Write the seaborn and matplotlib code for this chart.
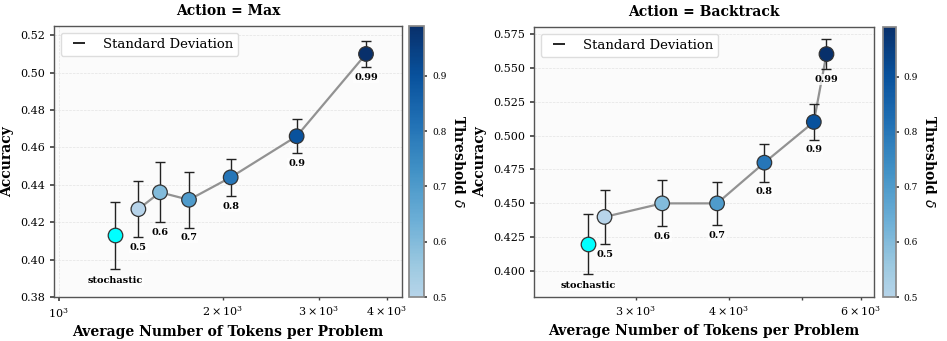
import numpy as np
import pandas as pd
import seaborn as sns
import matplotlib.pyplot as plt
from matplotlib.colors import ListedColormap, Normalize
from matplotlib.lines import Line2D

# data
thresholds = [0.5, 0.6, 0.7, 0.8, 0.9, 0.99]
threshold_labels = ['0.5', '0.6', '0.7', '0.8', '0.9', '0.99']

max_tokens = [1400, 1534, 1734, 2068, 2733, 3664]
max_acc = [0.427, 0.436, 0.432, 0.444, 0.466, 0.510]
max_std = [0.015, 0.016, 0.015, 0.010, 0.009, 0.007]
max_stoch_tokens = 1269
max_stoch_acc = 0.413
max_stoch_std = 0.018

bt_tokens = [2727, 3256, 3855, 4459, 5191, 5397]
bt_acc = [0.440, 0.450, 0.450, 0.480, 0.510, 0.560]
bt_std = [0.020, 0.017, 0.016, 0.014, 0.013, 0.011]
bt_stoch_tokens = 2593
bt_stoch_acc = 0.420
bt_stoch_std = 0.022

sns.set_theme(style='white')
plt.rcParams['font.family'] = ['DejaVu Serif']
plt.rcParams['text.color'] = 'black'
plt.rcParams['axes.labelcolor'] = 'black'
plt.rcParams['xtick.color'] = 'black'
plt.rcParams['ytick.color'] = 'black'

cmap = ListedColormap(plt.cm.Blues(np.linspace(0.3, 1.0, 256)))
norm = Normalize(vmin=0.5, vmax=0.99)

fig = plt.figure(figsize=(9.47, 3.41), dpi=100)

panels = [
    ('Max', max_tokens, max_acc, max_std, max_stoch_tokens, max_stoch_acc, max_stoch_std,
     [0.057, 0.129, 0.3675, 0.795], [0.432, 0.129, 0.016, 0.795], (0.38, 0.525), (980, 4266),
     [0.38, 0.40, 0.42, 0.44, 0.46, 0.48, 0.50, 0.52], '{:.2f}'),
    ('Backtrack', bt_tokens, bt_acc, bt_std, bt_stoch_tokens, bt_stoch_acc, bt_stoch_std,
     [0.564, 0.129, 0.359, 0.792], [0.932, 0.129, 0.014, 0.792], (0.381, 0.580), (2196, 6248),
     [0.400, 0.425, 0.450, 0.475, 0.500, 0.525, 0.550, 0.575], '{:.3f}'),
]

for (name, tokens, acc, std, s_tok, s_acc, s_std, pos, cpos, ylim, xlim, yticks, yfmt) in panels:
    ax = fig.add_axes(pos)
    cax = fig.add_axes(cpos)
    df = pd.DataFrame({'tokens': tokens, 'acc': acc, 'std': std, 'threshold': thresholds})

    ax.set_facecolor('#fbfbfb')
    ax.set_xscale('log')

    sns.lineplot(data=df, x='tokens', y='acc', color='gray', linewidth=1.6, alpha=0.85,
                 ax=ax, zorder=2)
    ax.errorbar(tokens, acc, yerr=std, fmt='none', ecolor='#222222', elinewidth=1.0,
                capsize=3.5, capthick=1.0, zorder=3)
    ax.errorbar([s_tok], [s_acc], yerr=[s_std], fmt='none', ecolor='#222222',
                elinewidth=1.0, capsize=3.5, capthick=1.0, zorder=3)
    sns.scatterplot(data=df, x='tokens', y='acc', hue='threshold', palette=cmap,
                    hue_norm=norm, s=110, edgecolor='#333333', linewidth=0.9,
                    legend=False, ax=ax, zorder=4)
    ax.scatter([s_tok], [s_acc], s=110, color='cyan', edgecolor='#333333',
               linewidth=0.9, zorder=4)

    for t, a, sd, lab in zip(tokens, acc, std, threshold_labels):
        ax.annotate(lab, (t, a - sd), xytext=(0, -4), textcoords='offset points',
                    ha='center', va='top', fontsize=7, fontweight='bold',
                    bbox=dict(boxstyle='square,pad=0.1', facecolor='white',
                              edgecolor='none', alpha=0.75), zorder=5)
    ax.annotate('stochastic', (s_tok, s_acc - s_std), xytext=(0, -5),
                textcoords='offset points', ha='center', va='top', fontsize=7,
                fontweight='bold',
                bbox=dict(boxstyle='square,pad=0.1', facecolor='white',
                          edgecolor='none', alpha=0.75), zorder=5)

    ax.set_xlim(xlim)
    ax.set_ylim(ylim)
    ax.set_yticks(yticks)
    ax.set_yticklabels([yfmt.format(v) for v in yticks])
    ax.tick_params(axis='both', which='both', labelsize=8, direction='out', length=3,
                   color='#444444', bottom=True, left=True)
    ax.tick_params(axis='x', which='minor', length=2)
    ax.grid(True, which='major', linestyle='--', linewidth=0.5, color='#dddddd', alpha=0.8)
    for sp in ax.spines.values():
        sp.set_color('#555555')
        sp.set_linewidth(1.0)

    ax.set_title(f'Action = {name}', fontsize=10, fontweight='bold', pad=8)
    ax.set_xlabel('Average Number of Tokens per Problem', fontsize=10, fontweight='bold')
    ax.set_ylabel('Accuracy', fontsize=10, fontweight='bold')

    handle = Line2D([], [], color='black', marker='_', linestyle='none', markersize=8,
                    markeredgewidth=1.2)
    ax.legend([handle], ['Standard Deviation'], loc='upper left', fontsize=9.5,
              frameon=True, facecolor='white', edgecolor='#dddddd', framealpha=1.0)

    sm = plt.cm.ScalarMappable(cmap=cmap, norm=norm)
    cb = fig.colorbar(sm, cax=cax)
    cb.set_ticks([0.5, 0.6, 0.7, 0.8, 0.9])
    cb.ax.tick_params(labelsize=6.5, length=2, color='#444444')
    cb.outline.set_edgecolor('#888888')
    cb.set_label('Threshold $\\delta$', rotation=270, labelpad=14, fontsize=10,
                 fontweight='bold')

fig.savefig('out.png', dpi=100)
